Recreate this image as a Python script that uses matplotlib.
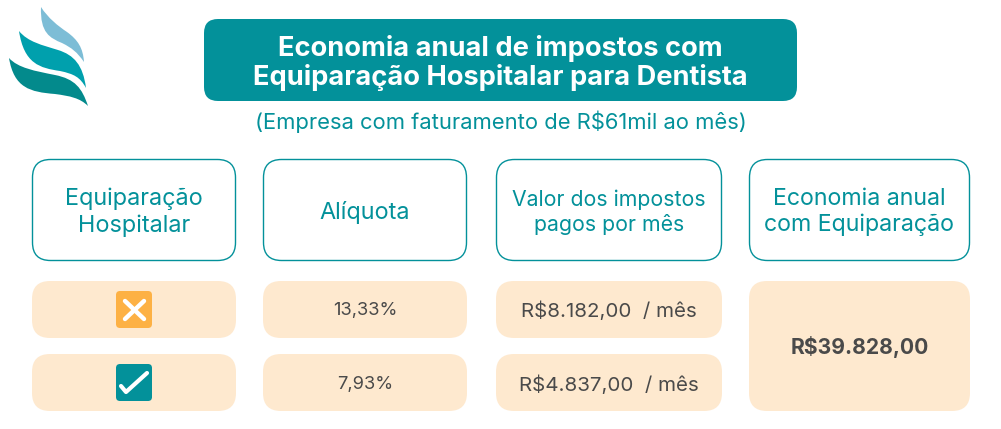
import matplotlib
matplotlib.use('Agg')
import matplotlib.pyplot as plt
from matplotlib.patches import FancyBboxPatch, PathPatch
from matplotlib.path import Path

plt.rcParams['font.family'] = ['Inter', 'DejaVu Sans']

TEAL = '#03919a'
CREAM = '#fee9cf'
ORANGE = '#fdb144'
GREY = '#4a4a4a'

title = 'Economia anual de impostos com\nEquiparação Hospitalar para Dentista'
subtitle = '(Empresa com faturamento de R$61mil ao mês)'
headers = ['Equiparação\nHospitalar', 'Alíquota', 'Valor dos impostos\npagos por mês', 'Economia anual\ncom Equiparação']
rates = ['13,33%', '7,93%']
taxes = ['R$8.182,00  / mês', 'R$4.837,00  / mês']
saving = 'R$39.828,00'

# colunas em pixels: (esquerda, direita)
cols = [(32, 236), (263, 467), (496, 722), (749, 970)]
header_sizes = [16.9, 16.9, 15.3, 16.7]

fig = plt.figure(figsize=(10.01, 4.29), dpi=100)
ax = fig.add_axes([0, 0, 1, 1])
ax.set_xlim(0, 1001)
ax.set_ylim(429, 0)
ax.axis('off')


def box(x0, y0, x1, y1, r, fc, ec='none', lw=0):
    p = FancyBboxPatch((x0 + r, y0 + r), x1 - x0 - 2 * r, y1 - y0 - 2 * r,
                       boxstyle='round,pad=%f,rounding_size=%f' % (r, r),
                       fc=fc, ec=ec, lw=lw)
    ax.add_patch(p)


# titulo
box(204, 19, 797, 101, 14, TEAL)
ax.text(500, 63, title, color='white', fontsize=19.6, fontweight='bold',
        ha='center', va='center', linespacing=1.13)
ax.text(500.5, 122, subtitle, color=TEAL, fontsize=15.8, ha='center', va='center')

# cabecalhos
for (x0, x1), h, s in zip(cols, headers, header_sizes):
    box(x0 + 0.5, 159.5, x1 - 0.5, 260.5, 18, 'white', TEAL, 1.0)
    ax.text((x0 + x1) / 2, 212, h, color=TEAL, fontsize=s, ha='center',
            va='center', linespacing=1.25)

# linhas
rows = [(281, 338), (354, 411)]
for i, (y0, y1) in enumerate(rows):
    ym = (y0 + y1) / 2
    for c in range(3):
        box(cols[c][0], y0, cols[c][1], y1, 18, CREAM)
    ax.text((cols[1][0] + cols[1][1]) / 2, ym + 1.5 + i, rates[i], color=GREY,
            fontsize=13.2, ha='center', va='center')
    ax.text((cols[2][0] + cols[2][1]) / 2, ym + 2 + i, taxes[i], color=GREY,
            fontsize=14.8, ha='center', va='center')

# economia
box(749, 281, 970, 411, 18, CREAM)
ax.text(859.5, 347, saving, color=GREY, fontsize=15.2, fontweight='bold',
        ha='center', va='center')

# icones
box(116, 291, 152, 328, 4, ORANGE)
ax.plot([125, 144], [301, 319], color='white', lw=3.2, solid_capstyle='round')
ax.plot([144, 125], [301, 319], color='white', lw=3.2, solid_capstyle='round')
box(116, 364, 152, 401, 4, TEAL)
ax.plot([121, 126, 147], [386, 392, 373], color='white', lw=3.0,
        solid_capstyle='round', solid_joinstyle='round')


# logo
def leaf(verts, color):
    codes = [Path.MOVETO] + [Path.CURVE4] * (len(verts) - 1)
    ax.add_patch(PathPatch(Path(verts, codes), fc=color, ec='none'))


leaf([(41, 7), (48, 18), (58, 26), (67, 32), (78, 40), (83, 48), (84, 62),
      (77, 52), (72, 48), (62, 43), (50, 38), (40, 33), (41, 7)], '#7dbdd6')
leaf([(19, 31), (28, 42), (42, 45), (58, 50), (74, 55), (83, 65), (86, 88),
      (80, 77), (74, 74), (60, 71), (40, 68), (24, 64), (19, 31)], '#00a0ad')
leaf([(9, 58), (18, 68), (35, 71), (55, 75), (75, 79), (82, 88), (88, 106),
      (80, 98), (70, 96), (55, 94), (30, 92), (14, 88), (9, 58)], '#038a8c')

fig.savefig('out.png', dpi=100, facecolor='white')
